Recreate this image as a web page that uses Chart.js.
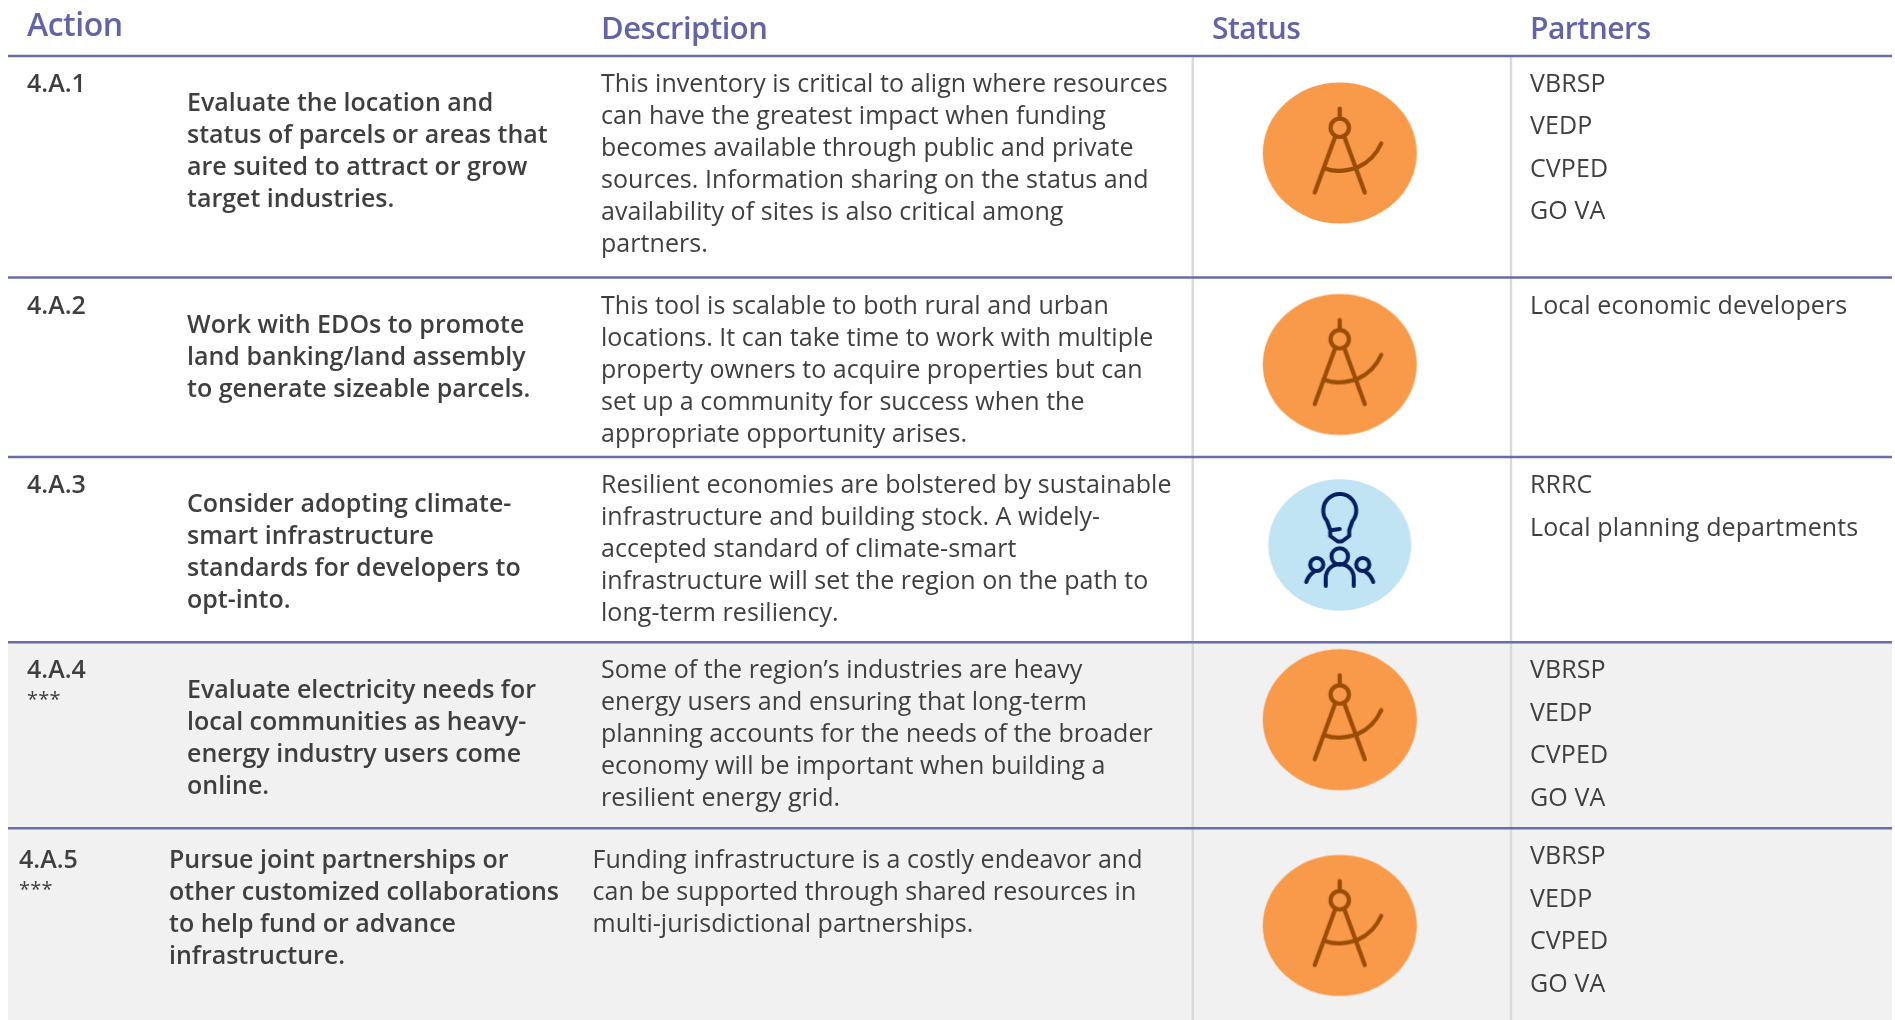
<!DOCTYPE html>
<html lang="en">
<head>
<meta charset="UTF-8">
<title>Infrastructure Actions</title>
<script src="https://cdn.jsdelivr.net/npm/chart.js"></script>
<style>
  html, body { margin: 0; padding: 0; background: #fff; }
  canvas { display: block; }
</style>
</head>
<body>
<canvas id="actionsTable" width="1895" height="1020"></canvas>
<script>
// table content
const headers = ['Action', 'Description', 'Status', 'Partners'];
const actionIds = ['4.A.1', '4.A.2', '4.A.3', '4.A.4', '4.A.5'];
const actionStars = ['', '', '', '***', '***'];
const actionTitles = [
  ['Evaluate the location and', 'status of parcels or areas that', 'are suited to attract or grow', 'target industries.'],
  ['Work with EDOs to promote', 'land banking/land assembly', 'to generate sizeable parcels.'],
  ['Consider adopting climate-', 'smart infrastructure', 'standards for developers to', 'opt-into.'],
  ['Evaluate electricity needs for', 'local communities as heavy-', 'energy industry users come', 'online.'],
  ['Pursue joint partnerships or', 'other customized collaborations', 'to help fund or advance', 'infrastructure.']
];
const descriptions = [
  ['This inventory is critical to align where resources', 'can have the greatest impact when funding', 'becomes available through public and private', 'sources. Information sharing on the status and', 'availability of sites is also critical among', 'partners.'],
  ['This tool is scalable to both rural and urban', 'locations. It can take time to work with multiple', 'property owners to acquire properties but can', 'set up a community for success when the', 'appropriate opportunity arises.'],
  ['Resilient economies are bolstered by sustainable', 'infrastructure and building stock. A widely-', 'accepted standard of climate-smart', 'infrastructure will set the region on the path to', 'long-term resiliency.'],
  ['Some of the region\u2019s industries are heavy', 'energy users and ensuring that long-term', 'planning accounts for the needs of the broader', 'economy will be important when building a', 'resilient energy grid.'],
  ['Funding infrastructure is a costly endeavor and', 'can be supported through shared resources in', 'multi-jurisdictional partnerships.']
];
const partners = [
  ['VBRSP', 'VEDP', 'CVPED', 'GO VA'],
  ['Local economic developers'],
  ['RRRC', 'Local planning departments'],
  ['VBRSP', 'VEDP', 'CVPED', 'GO VA'],
  ['VBRSP', 'VEDP', 'CVPED', 'GO VA']
];
const statusKinds = ['design', 'design', 'ideas', 'design', 'design'];

// layout
const rowRules = [56, 277.5, 457, 642.3, 828.3];
const columnRules = [1192.7, 1511];
const statusX = 1339.7;
const statusY = [153, 364.5, 545, 719.7, 925.5];
const headerX = [27, 601, 1212, 1530];
const headerY = [35.5, 38.5, 38.5, 38.5];
const headerSize = [32, 31, 30, 30];
const idX = [27, 27, 27, 27, 19];
const titleX = [187, 187, 187, 187, 169];
const descX = [601, 601, 601, 601, 592.5];
const idY = [91.7, 314, 493, 678.3, 868.3];
const titleY = [110.7, 333.4, 512.3, 698.3, 868.3];
const descY = [91.7, 314, 493, 678.3, 868.3];
const partnerY = [91.7, 314, 493, 678.3, 864];

const LEFT = 8, RIGHT = 1892, BOTTOM = 1020;
const GREY_FROM = 642.3;
const LINE_PITCH = 32, PARTNER_PITCH = 42.5;
const FACE = '"Open Sans"';
const INK = '#3f3f3f', HEAD = '#6264a7';

function designIcon() {
  const c = document.createElement('canvas');
  c.width = 160; c.height = 146;
  const g = c.getContext('2d');
  g.translate(80, 73);
  g.fillStyle = '#f9994a';
  g.beginPath(); g.ellipse(0, 0, 77, 70.5, 0, 0, Math.PI * 2); g.fill();
  g.strokeStyle = '#9a4d06'; g.lineWidth = 4.2; g.lineCap = 'round'; g.lineJoin = 'round';
  g.beginPath(); g.moveTo(0, -44.5); g.lineTo(0, -35); g.stroke();
  g.beginPath(); g.arc(0, -25.2, 9.2, 0, Math.PI * 2); g.stroke();
  g.beginPath(); g.moveTo(-4.5, -16.5); g.lineTo(-25, 39.5); g.stroke();
  g.beginPath(); g.moveTo(4.5, -16.5); g.lineTo(25, 39.5); g.stroke();
  g.beginPath(); g.moveTo(-15, 15.5); g.quadraticCurveTo(0, 21, 18.5, 14); g.quadraticCurveTo(34, 7, 41.5, -9.5); g.stroke();
  return c;
}

function ideasIcon() {
  const c = document.createElement('canvas');
  c.width = 150; c.height = 136;
  const g = c.getContext('2d');
  g.translate(75, 68);
  g.fillStyle = '#c1e4f5';
  g.beginPath(); g.ellipse(0, 0, 71.5, 65.8, 0, 0, Math.PI * 2); g.fill();
  g.strokeStyle = '#002060'; g.lineWidth = 4; g.lineCap = 'round'; g.lineJoin = 'round';
  // bulb
  g.beginPath();
  g.arc(0, -34.5, 16.5, Math.PI * 0.78, Math.PI * 0.22);
  g.lineTo(9.5, -15); g.lineTo(9.5, -9); g.lineTo(2, -3.5); g.lineTo(-2, -3.5); g.lineTo(-9.5, -9); g.lineTo(-9.5, -15);
  g.closePath(); g.stroke();
  g.beginPath(); g.moveTo(-7, -15); g.lineTo(0, -16); g.stroke();
  // people
  g.beginPath(); g.arc(0, 11.5, 8.3, 0, Math.PI * 2); g.stroke();
  g.beginPath(); g.moveTo(-14, 41); g.lineTo(-14, 33); g.arc(0, 33, 14, Math.PI, 0); g.lineTo(14, 41); g.stroke();
  [-1, 1].forEach(s => {
    g.beginPath(); g.arc(s * 23, 19.5, 6.6, 0, Math.PI * 2); g.stroke();
    g.beginPath(); g.moveTo(s * 33.5, 37); g.quadraticCurveTo(s * 31, 30, s * 26, 27); g.stroke();
  });
  return c;
}

const statusIcons = { design: designIcon(), ideas: ideasIcon() };

function ruleSets() {
  const sets = [];
  rowRules.forEach(y => sets.push({
    type: 'line', data: [{ x: LEFT, y }, { x: RIGHT, y }],
    borderColor: '#6a6ca6', borderWidth: 2.6, pointRadius: 0
  }));
  columnRules.forEach(x => sets.push({
    type: 'line', data: [{ x, y: rowRules[0] }, { x, y: BOTTOM }],
    borderColor: '#d9d9d9', borderWidth: 2.4, pointRadius: 0
  }));
  return sets;
}

const tableText = {
  id: 'tableText',
  beforeDatasetsDraw(chart) {
    const { ctx, scales: { x, y } } = chart;
    ctx.save();
    ctx.fillStyle = '#f1f1f1';
    ctx.fillRect(x.getPixelForValue(LEFT), y.getPixelForValue(GREY_FROM),
      x.getPixelForValue(RIGHT) - x.getPixelForValue(LEFT), y.getPixelForValue(BOTTOM) - y.getPixelForValue(GREY_FROM));
    ctx.restore();
  },
  afterDatasetsDraw(chart) {
    const { ctx, scales: { x, y } } = chart;
    const put = (text, px, py, font, color, spacing) => {
      ctx.font = font;
      ctx.fillStyle = color;
      ctx.letterSpacing = spacing;
      ctx.fillText(text, x.getPixelForValue(px), y.getPixelForValue(py));
    };
    ctx.save();
    ctx.textBaseline = 'alphabetic';
    headers.forEach((h, i) => put(h, headerX[i], headerY[i], `600 ${headerSize[i]}px ${FACE}`, HEAD, '-0.5px'));
    actionIds.forEach((id, r) => {
      put(id, idX[r], idY[r], `600 25px ${FACE}`, INK, '0px');
      if (actionStars[r]) put(actionStars[r], idX[r], idY[r] + 27.5, `400 20px ${FACE}`, INK, '0.2px');
      actionTitles[r].forEach((t, i) => put(t, titleX[r], titleY[r] + i * LINE_PITCH, `600 25px ${FACE}`, INK, '0px'));
      descriptions[r].forEach((t, i) => put(t, descX[r], descY[r] + i * LINE_PITCH, `400 25px ${FACE}`, INK, '0.05px'));
      partners[r].forEach((t, i) => put(t, 1530, partnerY[r] + i * PARTNER_PITCH, `400 25px ${FACE}`, INK, '0.1px'));
    });
    ctx.restore();
  }
};

new Chart(document.getElementById('actionsTable'), {
  type: 'scatter',
  data: {
    datasets: [
      {
        data: statusKinds.map((k, i) => ({ x: statusX, y: statusY[i] })),
        pointStyle: statusKinds.map(k => statusIcons[k]),
        pointRadius: 40
      },
      ...ruleSets()
    ]
  },
  options: {
    responsive: false,
    animation: false,
    layout: { padding: 0, autoPadding: false },
    plugins: { legend: { display: false }, tooltip: { enabled: false } },
    scales: {
      x: { type: 'linear', min: 0, max: 1895, display: false },
      y: { type: 'linear', min: 0, max: 1020, reverse: true, display: false }
    }
  },
  plugins: [tableText]
});
</script>
</body>
</html>
